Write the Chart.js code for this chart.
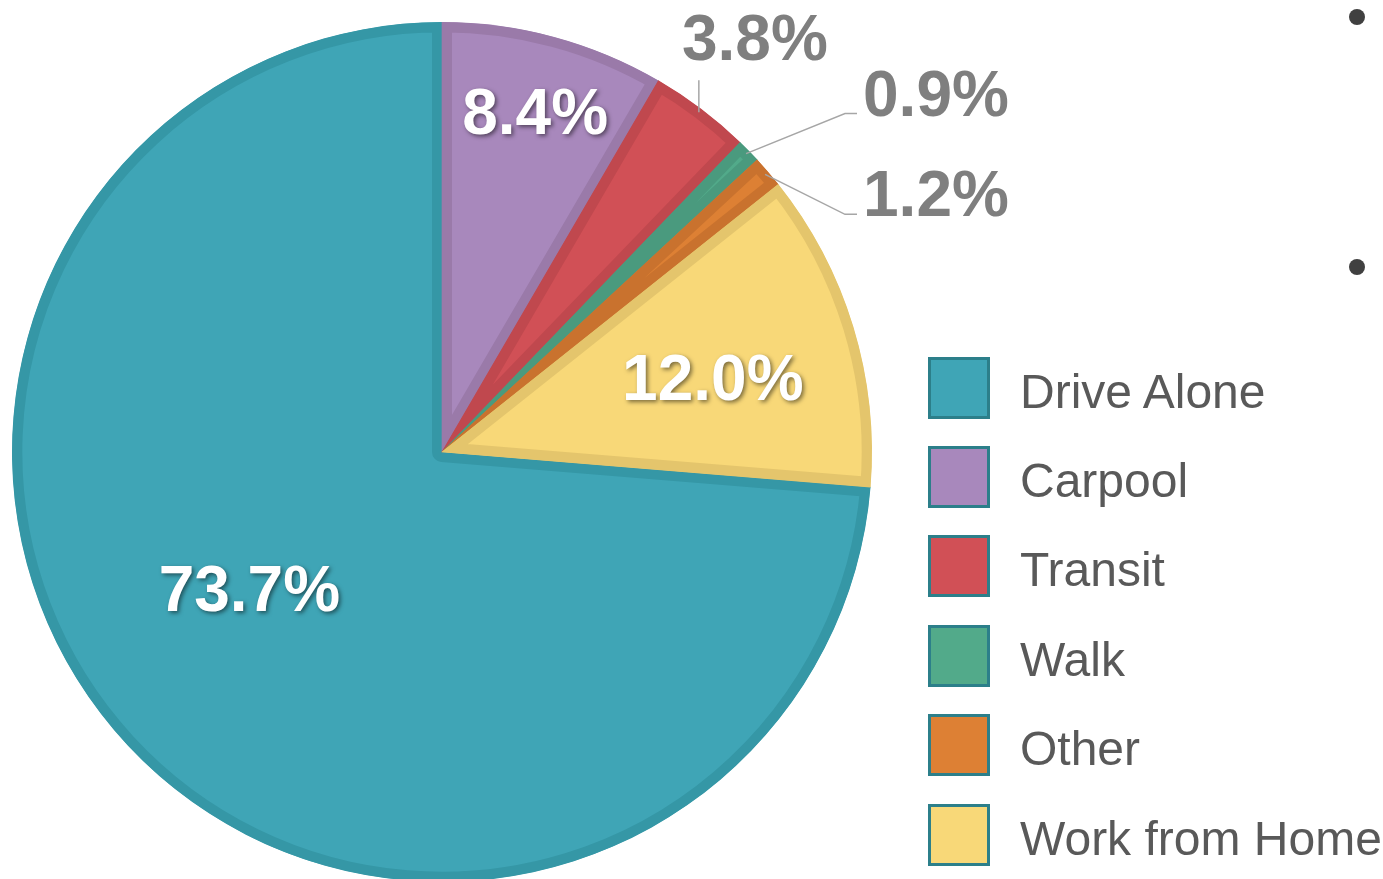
<!DOCTYPE html>
<html>
<head>
<meta charset="utf-8">
<script src="https://cdn.jsdelivr.net/npm/chart.js@4/dist/chart.umd.min.js"></script>
<style>
  html, body { margin: 0; padding: 0; background: #fff; overflow: hidden; }
  body { width: 1383px; height: 879px; position: relative; font-family: "Liberation Sans", Arial, sans-serif; }
  #wrap { position: absolute; left: 0; top: 0; width: 1383px; height: 910px; }
  #legende { position: absolute; left: 928px; top: 343px; }
  .fila { display: flex; align-items: center; height: 89.4px; }
  .caja { width: 56px; height: 56px; border: 3px solid #2c7f8a; box-sizing: content-box; }
  .texto { margin-left: 30px; font-size: 48px; color: #595959; white-space: nowrap; line-height: 1; position: relative; top: 4px; }
  .punto { position: absolute; width: 16px; height: 16px; border-radius: 50%; background: #404040; }
</style>
</head>
<body>
<div id="wrap"><canvas id="grafico"></canvas></div>
<div id="legende"></div>
<div class="punto" style="left:1349px; top:9px;"></div>
<div class="punto" style="left:1349px; top:259px;"></div>
<script>
// Datos del gráfico
const categorias = ['Drive Alone', 'Carpool', 'Transit', 'Walk', 'Other', 'Work from Home'];
const porcentajes = [73.7, 8.4, 3.8, 0.9, 1.2, 12.0];
const coloresRelleno = ['#3fa5b6', '#a888bc', '#d15056', '#52aa8a', '#dd8034', '#f8d878'];
const coloresBorde = ['#3597a6', '#9a7aa9', '#c0484e', '#4a9a7e', '#c9722e', '#e4c56c'];

// Estilo de las etiquetas (dentro o fuera de la porción)
const estiloEtiquetas = [
    { dentro: true, radio: 0.55, giro: 7.2 },
    { dentro: true, radio: 0.82, giro: 0.2 },
    { dentro: false, tipo: 'arriba', subida: 32, dxTexto: 56, dyTexto: -52 },
    { dentro: false, tipo: 'codo', dyCodo: -40 },
    { dentro: false, tipo: 'codo', dyCodo: 40 },
    { dentro: true, radio: 0.653, giro: 1.6 }
];

const fuente = '"Liberation Sans", Arial, sans-serif';

// Plugin para dibujar las etiquetas de porcentaje
const etiquetasPlugin = {
    id: 'etiquetas',
    afterDatasetsDraw(chart) {
        const ctx = chart.ctx;
        const meta = chart.getDatasetMeta(0);
        meta.data.forEach(function(arco, i) {
            const p = arco.getProps(['x', 'y', 'startAngle', 'endAngle', 'outerRadius'], true);
            const medio = (p.startAngle + p.endAngle) / 2;
            const texto = porcentajes[i].toFixed(1) + '%';
            const est = estiloEtiquetas[i];
            ctx.save();
            ctx.font = 'bold 64px ' + fuente;
            if (est.dentro) {
                const ang = medio + est.giro * Math.PI / 180;
                const r = p.outerRadius * est.radio;
                const tx = p.x + Math.cos(ang) * r;
                const ty = p.y + Math.sin(ang) * r;
                ctx.textAlign = 'center';
                ctx.textBaseline = 'alphabetic';
                ctx.shadowColor = 'rgba(0,0,0,0.5)';
                ctx.shadowOffsetX = 2;
                ctx.shadowOffsetY = 2;
                ctx.shadowBlur = 4;
                ctx.fillStyle = '#ffffff';
                ctx.fillText(texto, tx, ty + 22);
            } else {
                const r0 = p.outerRadius - 4;
                const ax = p.x + Math.cos(medio) * r0;
                const ay = p.y + Math.sin(medio) * r0;
                ctx.strokeStyle = '#a6a6a6';
                ctx.lineWidth = 1.5;
                ctx.fillStyle = '#7f7f7f';
                ctx.textBaseline = 'alphabetic';
                ctx.beginPath();
                if (est.tipo === 'arriba') {
                    ctx.moveTo(ax, ay);
                    ctx.lineTo(ax, ay - est.subida);
                    ctx.stroke();
                    ctx.textAlign = 'center';
                    ctx.fillText(texto, ax + est.dxTexto, ay + est.dyTexto);
                } else {
                    const codoX = p.x + p.outerRadius - 27;
                    const codoY = ay + est.dyCodo;
                    ctx.moveTo(ax, ay);
                    ctx.lineTo(codoX, codoY);
                    ctx.lineTo(codoX + 12, codoY);
                    ctx.stroke();
                    ctx.textAlign = 'left';
                    ctx.fillText(texto, codoX + 18, codoY + 2);
                }
            }
            ctx.restore();
        });
    }
};

// Giro para que "Drive Alone" termine arriba
const giro = -porcentajes[0] * 3.6;

new Chart(document.getElementById('grafico'), {
    type: 'pie',
    data: {
        labels: categorias,
        datasets: [{
            data: porcentajes,
            backgroundColor: coloresRelleno,
            borderColor: coloresBorde,
            borderWidth: 10,
            borderAlign: 'inner'
        }]
    },
    options: {
        responsive: true,
        maintainAspectRatio: false,
        animation: false,
        rotation: giro,
        layout: { padding: { left: 12, right: 511, top: 22, bottom: 28 } },
        plugins: {
            legend: { display: false },
            tooltip: { enabled: false }
        }
    },
    plugins: [etiquetasPlugin]
});

// Leyenda en HTML
const leyenda = document.getElementById('legende');
categorias.forEach(function(nombre, i) {
    const fila = document.createElement('div');
    fila.className = 'fila';
    const caja = document.createElement('div');
    caja.className = 'caja';
    caja.style.background = coloresRelleno[i];
    const texto = document.createElement('div');
    texto.className = 'texto';
    texto.textContent = nombre;
    fila.appendChild(caja);
    fila.appendChild(texto);
    leyenda.appendChild(fila);
});
</script>
</body>
</html>
